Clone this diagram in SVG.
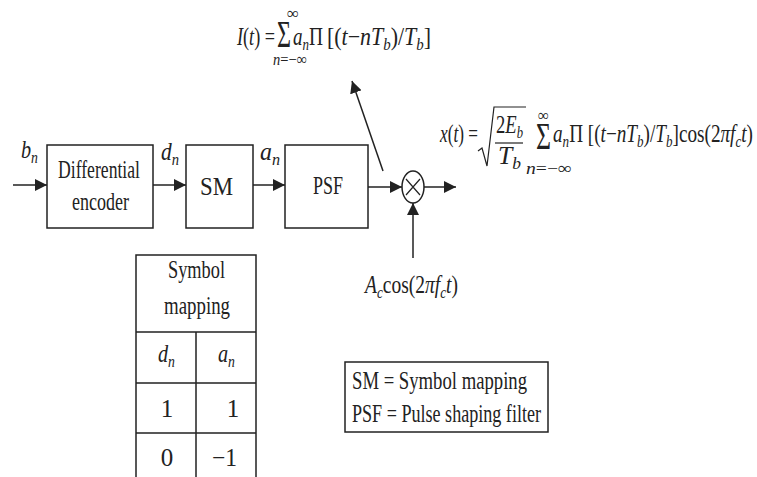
<svg xmlns="http://www.w3.org/2000/svg" width="757" height="477" viewBox="0 0 757 477">
<defs>
<style>
text{font-family:"Liberation Serif","Times New Roman",serif;fill:#222;font-size:25px}
.i{font-style:italic}
.s{font-size:17px}
.lim{font-size:17px}
.big{font-size:38px}
.box{fill:#fff;stroke:#222;stroke-width:1.5}
.ln{stroke:#222;stroke-width:1.5;fill:none}
.thin{stroke:#222;stroke-width:1.2;fill:none}
</style>
<marker id="ah" markerUnits="userSpaceOnUse" markerWidth="12" markerHeight="12" viewBox="0 0 12 12" refX="12" refY="6" orient="auto">
<path d="M0,0 L12,6 L0,12 z" fill="#222"/>
</marker>
</defs>
<rect width="757" height="477" fill="#fff"/>

<g id="connectors">
<path class="ln" d="M13,185 H47" marker-end="url(#ah)"/>
<path class="ln" d="M153,185 H186" marker-end="url(#ah)"/>
<path class="ln" d="M253,185 H285" marker-end="url(#ah)"/>
<path class="ln" d="M368,187 H402" marker-end="url(#ah)"/>
<path class="ln" d="M424,187 H456" marker-end="url(#ah)"/>
<path class="ln" d="M413,258 V203" marker-end="url(#ah)"/>
<path class="ln" d="M383,171 L352,81" marker-end="url(#ah)"/>
</g>

<g id="label-bn"><text x="21" y="158" class="i" textLength="17" lengthAdjust="spacingAndGlyphs">b<tspan class="s" dy="5">n</tspan></text></g>
<g id="label-dn"><text x="161" y="160" class="i" textLength="18" lengthAdjust="spacingAndGlyphs">d<tspan class="s" dy="5">n</tspan></text></g>
<g id="label-an"><text x="260" y="160" class="i" textLength="20" lengthAdjust="spacingAndGlyphs">a<tspan class="s" dy="5">n</tspan></text></g>

<g id="differential-encoder">
<rect class="box" x="47" y="145" width="106" height="83"/>
<text x="58" y="178" textLength="82" lengthAdjust="spacingAndGlyphs">Differential</text>
<text x="72" y="210" textLength="57" lengthAdjust="spacingAndGlyphs">encoder</text>
</g>

<g id="sm">
<rect class="box" x="186" y="145" width="67" height="83"/>
<text x="200" y="195" textLength="33" lengthAdjust="spacingAndGlyphs">SM</text>
</g>

<g id="psf">
<rect class="box" x="285" y="145" width="83" height="83"/>
<text x="313" y="194" textLength="30" lengthAdjust="spacingAndGlyphs">PSF</text>
</g>

<g id="multiplier">
<ellipse class="ln" cx="413" cy="187" rx="11" ry="16"/>
<path class="thin" d="M406,179 L420,195 M420,179 L406,195"/>
</g>

<g id="formula-I">
<text x="237" y="45" textLength="38" lengthAdjust="spacingAndGlyphs"><tspan class="i">I</tspan>(<tspan class="i">t</tspan>) =</text>
<text x="277" y="47" class="big" textLength="14" lengthAdjust="spacingAndGlyphs">Σ</text>
<text x="287" y="19" class="lim" textLength="12" lengthAdjust="spacingAndGlyphs">∞</text>
<text x="273" y="65" class="lim" textLength="34" lengthAdjust="spacingAndGlyphs"><tspan class="i">n</tspan>=−∞</text>
<text x="293" y="45" class="i" textLength="16" lengthAdjust="spacingAndGlyphs">a<tspan class="s" dy="5">n</tspan></text>
<text x="309" y="45" textLength="14" lengthAdjust="spacingAndGlyphs">Π</text>
<text x="327" y="45" textLength="104" lengthAdjust="spacingAndGlyphs">[(<tspan class="i">t</tspan>−<tspan class="i">nT</tspan><tspan class="s i" dy="5">b</tspan><tspan dy="-5">)/</tspan><tspan class="i">T</tspan><tspan class="s i" dy="5">b</tspan><tspan dy="-5">]</tspan></text>
</g>

<g id="formula-x">
<text x="440" y="142" textLength="38" lengthAdjust="spacingAndGlyphs"><tspan class="i">x</tspan>(<tspan class="i">t</tspan>) =</text>
<path class="thin" d="M478,151 L482,148 L487,166 L494,107 L526,107"/>
<text x="496" y="133" textLength="27" lengthAdjust="spacingAndGlyphs">2<tspan class="i">E</tspan><tspan class="s i" dy="5">b</tspan></text>
<line class="thin" x1="495" y1="143" x2="523" y2="143"/>
<text x="498" y="164" class="i" textLength="23" lengthAdjust="spacingAndGlyphs">T<tspan class="s" dy="5">b</tspan></text>
<text x="536" y="149" class="big" textLength="15" lengthAdjust="spacingAndGlyphs">Σ</text>
<text x="538" y="121" class="lim" textLength="11" lengthAdjust="spacingAndGlyphs">∞</text>
<text x="526" y="174" class="lim" textLength="46" lengthAdjust="spacingAndGlyphs"><tspan class="i">n</tspan>=−∞</text>
<text x="553" y="142" textLength="200" lengthAdjust="spacingAndGlyphs"><tspan class="i">a</tspan><tspan class="s i" dy="5">n</tspan><tspan dy="-5">Π [(</tspan><tspan class="i">t</tspan>−<tspan class="i">nT</tspan><tspan class="s i" dy="5">b</tspan><tspan dy="-5">)/</tspan><tspan class="i">T</tspan><tspan class="s i" dy="5">b</tspan><tspan dy="-5">]cos(2</tspan><tspan class="i">πf</tspan><tspan class="s i" dy="5">c</tspan><tspan class="i" dy="-5">t</tspan>)</text>
</g>

<g id="carrier-label">
<text x="365" y="293" textLength="93" lengthAdjust="spacingAndGlyphs"><tspan class="i">A</tspan><tspan class="s i" dy="5">c</tspan><tspan dy="-5">cos(2</tspan><tspan class="i">πf</tspan><tspan class="s i" dy="5">c</tspan><tspan class="i" dy="-5">t</tspan>)</text>
</g>

<g id="symbol-mapping-table">
<path class="ln" d="M136,477 V255 H256 V477 M136,332 H256 M136,383 H256 M136,433 H256 M196,332 V477"/>
<text x="168" y="278" textLength="57" lengthAdjust="spacingAndGlyphs">Symbol</text>
<text x="164" y="314" textLength="66" lengthAdjust="spacingAndGlyphs">mapping</text>
<text x="158" y="362" class="i" textLength="17" lengthAdjust="spacingAndGlyphs">d<tspan class="s" dy="5">n</tspan></text>
<text x="218" y="362" class="i" textLength="17" lengthAdjust="spacingAndGlyphs">a<tspan class="s" dy="5">n</tspan></text>
<text x="167" y="417" text-anchor="middle">1</text>
<text x="233" y="417" text-anchor="middle">1</text>
<text x="167" y="466" text-anchor="middle">0</text>
<text x="212" y="466" textLength="25" lengthAdjust="spacingAndGlyphs">−1</text>
</g>

<g id="legend">
<rect class="box" x="345" y="362" width="203" height="70"/>
<text x="352" y="389" textLength="175" lengthAdjust="spacingAndGlyphs">SM  = Symbol mapping</text>
<text x="352" y="422" textLength="189" lengthAdjust="spacingAndGlyphs">PSF = Pulse shaping filter</text>
</g>
</svg>
